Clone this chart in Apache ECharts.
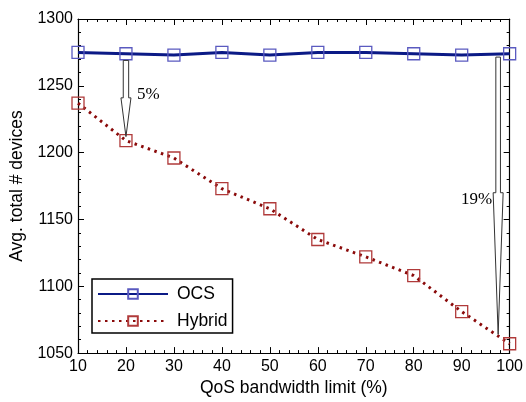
<!DOCTYPE html>
<html><head><meta charset="utf-8">
<script src="https://cdn.jsdelivr.net/npm/echarts@6/dist/echarts.min.js"></script>
<style>html,body{margin:0;padding:0;background:#fff}#c{width:526px;height:402px}</style>
</head><body><div id="c"></div>
<script>
const categories = [10, 20, 30, 40, 50, 60, 70, 80, 90, 100];
const ocsValues = [1275, 1274, 1273, 1275, 1273, 1275, 1275, 1274, 1273, 1274];
const hybridValues = [1237, 1209, 1196, 1173, 1158, 1135, 1122, 1108, 1081, 1057];
const xTicks = [10, 20, 30, 40, 50, 60, 70, 80, 90, 100];
const yTicks = [1050, 1100, 1150, 1200, 1250, 1300];
// annotation arrows: x, shaft top, tip, start of head, label
const arrowX = [20, 97.6];
const arrowFrom = [1269, 1271.5];
const arrowTo = [1212, 1064];
const arrowHeadStart = [1241, 1170];
const arrowLabels = ['5%', '19%'];

const font = '"Liberation Sans", Arial, sans-serif';
const chart = echarts.init(document.getElementById('c'), null, {renderer: 'canvas'});

const baseX = {type: 'value', min: xTicks[0], max: xTicks[xTicks.length - 1], interval: 10};
const baseY = {type: 'value', min: yTicks[0], max: yTicks[yTicks.length - 1], interval: 50};
const axLine = {show: true, lineStyle: {color: '#000', width: 1.2}};
const tick = {show: true, inside: true, length: 6, lineStyle: {color: '#000'}};
const minor = {show: true, splitNumber: 5, length: 3, lineStyle: {color: '#000'}};

chart.setOption({
  animation: false,
  backgroundColor: '#fff',
  grid: {left: 78, right: 12, top: 19, bottom: 48, containLabel: false},
  xAxis: [
    Object.assign({}, baseX, {
      position: 'bottom', axisLine: axLine, axisTick: tick, minorTick: minor,
      splitLine: {show: false},
      axisLabel: {color: '#000', fontFamily: font, fontSize: 16, margin: 5,
                  formatter: v => String(v)},
      name: 'QoS bandwidth limit (%)', nameLocation: 'middle', nameGap: 25,
      nameTextStyle: {color: '#000', fontFamily: font, fontSize: 17.5}
    }),
    Object.assign({}, baseX, {
      position: 'top', axisLine: axLine, axisTick: tick, minorTick: minor,
      splitLine: {show: false}, axisLabel: {show: false}
    })
  ],
  yAxis: [
    Object.assign({}, baseY, {
      position: 'left', axisLine: axLine, axisTick: tick, minorTick: minor,
      splitLine: {show: false},
      axisLabel: {color: '#000', fontFamily: font, fontSize: 16, margin: 5,
                  formatter: v => String(v)},
      name: 'Avg. total # devices', nameLocation: 'middle', nameGap: 47,
      nameTextStyle: {color: '#000', fontFamily: font, fontSize: 17.5}
    }),
    Object.assign({}, baseY, {
      position: 'right', axisLine: axLine, axisTick: tick, minorTick: minor,
      splitLine: {show: false}, axisLabel: {show: false}
    })
  ],
  legend: {
    orient: 'vertical', left: 92, top: 279,
    padding: [6, 5, 3, 5], itemGap: 9, itemWidth: 70, itemHeight: 12,
    borderColor: '#000', borderWidth: 1.5, backgroundColor: '#fff',
    textStyle: {color: '#000', fontFamily: font, fontSize: 17.5, padding: [0, 0, 0, 4]},
    data: ['OCS', 'Hybrid']
  },
  series: [
    {
      name: 'OCS', type: 'line', xAxisIndex: 0, yAxisIndex: 0,
      data: categories.map((x, i) => [x, ocsValues[i]]),
      symbol: 'rect', symbolSize: 12,
      lineStyle: {color: '#0b1a86', width: 3},
      itemStyle: {color: 'rgba(255,255,255,0)', borderColor: '#5a5ac0', borderWidth: 1.3},
      z: 3
    },
    {
      name: 'Hybrid', type: 'line', xAxisIndex: 0, yAxisIndex: 0,
      data: categories.map((x, i) => [x, hybridValues[i]]),
      symbol: 'rect', symbolSize: 12,
      lineStyle: {color: '#8a0a0a', width: 3, type: [2.5, 4.5]},
      itemStyle: {color: 'rgba(255,255,255,0)', borderColor: '#b03a3a', borderWidth: 1.3},
      z: 3
    },
    {
      name: 'arrows', type: 'custom', xAxisIndex: 0, yAxisIndex: 0,
      clip: false, z: 5, silent: true,
      data: arrowX.map((x, i) => [x, arrowFrom[i], arrowTo[i], arrowHeadStart[i], i]),
      renderItem: function (params, api) {
        const i = api.value(4);
        const top = api.coord([api.value(0), api.value(1)]);
        const tip = api.coord([api.value(0), api.value(2)]);
        const hs = api.coord([api.value(0), api.value(3)]);
        const cx = top[0];
        const sw = i === 0 ? 2.7 : 2.3;
        const hw = 5;
        const pts = [
          [cx - sw, top[1]], [cx + sw, top[1]], [cx + sw, hs[1]], [cx + hw, hs[1]],
          [cx, tip[1]], [cx - hw, hs[1]], [cx - sw, hs[1]]
        ];
        return {
          type: 'group',
          children: [
            {type: 'polygon', shape: {points: pts},
             style: {fill: '#fff', stroke: '#333', lineWidth: 1}},
            {type: 'text',
             x: i === 0 ? cx + 11 : cx - 6,
             y: i === 0 ? top[1] + 34 : hs[1] + 7,
             style: {text: arrowLabels[i], fill: '#000',
                     font: '17px "Liberation Serif", "Times New Roman", serif',
                     align: i === 0 ? 'left' : 'right', verticalAlign: 'middle'}}
          ]
        };
      }
    }
  ]
});
</script>
</body></html>
